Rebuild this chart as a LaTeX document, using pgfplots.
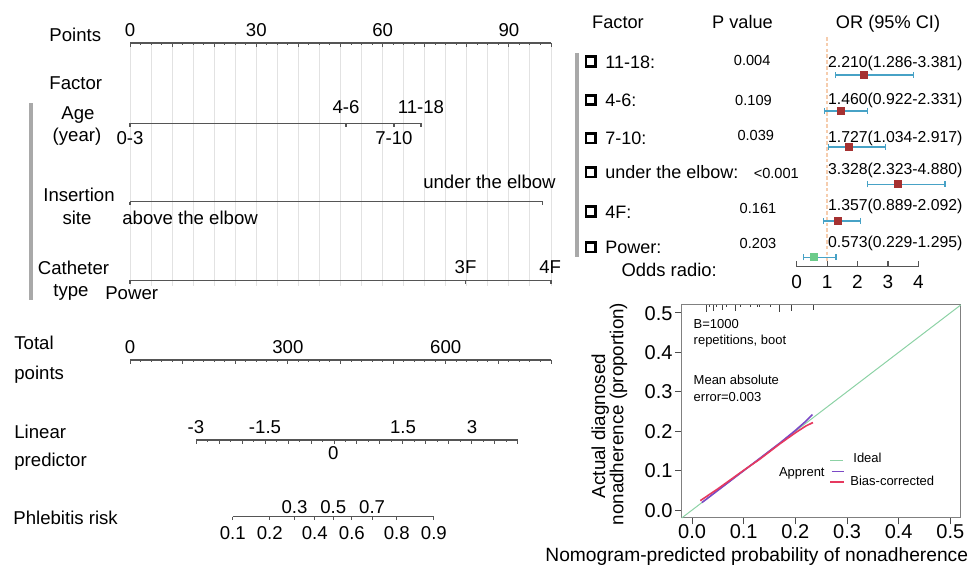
\documentclass[border=0pt]{standalone}
\usepackage{fontspec}
\setmainfont{Liberation Sans}
\usepackage{pgfplots}
\pgfplotsset{compat=1.18}

\definecolor{gridgray}{HTML}{E2E2E2}
\definecolor{bargray}{HTML}{A9A9A9}
\definecolor{axgray}{HTML}{555555}
\definecolor{ciblue}{HTML}{47A2C6}
\definecolor{ptred}{HTML}{A53131}
\definecolor{ptgreen}{HTML}{6CCB8A}
\definecolor{refline}{HTML}{F6CDAE}
\definecolor{idealgreen}{HTML}{8CD2A5}
\definecolor{apppurple}{HTML}{7B49C6}
\definecolor{bcred}{HTML}{E6395F}

\newcommand{\fs}[1]{\fontsize{#1}{#1}\selectfont}
\tikzset{f/.style 2 args={font=\fs{#1}, text height=#2, text depth=0pt, inner sep=0pt}}

\pgfplotsset{
  nomo/.style={scale only axis, clip=false,
    axis x line=top, axis y line=none, x axis line style={-},
    tick align=inside,
    axis line style={axgray, line width=0.6pt},
    tick style={axgray, line width=0.5pt},
    major tick length=2pt, minor tick length=1pt,
    xticklabel style={f={9.3}{6.66pt}, anchor=center, yshift=6.7pt}},
  lvl/.style={axgray, line width=0.6pt, mark=|, mark size=0.9pt,
    mark options={yshift=-0.9pt, axgray}},
}

\begin{document}
\begin{tikzpicture}
\path[use as bounding box] (0,0) rectangle (485pt,283.5pt);

% ---------- nomogram: points and factors ----------
\begin{axis}[nomo, at={(65pt,140.5pt)}, anchor=south west,
  width=210.5pt, height=121.5pt,
  xmin=0, xmax=100, ymin=-286, ymax=-43,
  xtick={0,5,...,100}, xticklabels={}, minor x tick num=1,
  major tick length=1pt,
  xmajorgrids, major grid style={gridgray, line width=0.5pt},
  extra x ticks={0,10,...,100}, extra x tick labels={0,,,30,,,60,,,90,},
  extra x tick style={major tick length=2pt, grid=none}]
\addplot[lvl] coordinates {(0,-123.3) (51.3,-123.3) (62.7,-123.3) (69.1,-123.3)};
\addplot[lvl] coordinates {(0,-201.7) (98.0,-201.7)};
\addplot[lvl] coordinates {(0,-280.5) (79.7,-280.5) (100,-280.5)};
\node[f={9.3}{6.66pt}] at (axis cs:51.3,-106.7) {4-6};
\node[f={9.3}{6.66pt}] at (axis cs:69.1,-106.7) {11-18};
\node[f={9.3}{6.66pt}] at (axis cs:0,-138.3) {0-3};
\node[f={9.3}{6.66pt}] at (axis cs:62.7,-138.3) {7-10};
\node[f={9.3}{6.66pt}, anchor=east] at (axis cs:101.2,-181.7) {under the elbow};
\node[f={9.3}{6.66pt}, anchor=west] at (axis cs:-1.9,-218.3) {above the elbow};
\node[f={9.3}{6.66pt}] at (axis cs:79.7,-266.7) {3F};
\node[f={9.3}{6.66pt}] at (axis cs:99.8,-266.7) {4F};
\node[f={9.3}{6.66pt}] at (axis cs:0.4,-293.3) {Power};
\end{axis}

% ---------- total points ----------
\begin{axis}[nomo, at={(65pt,103.5pt)}, anchor=north west,
  width=210.5pt, height=1pt, xmin=0, xmax=800, ymin=0, ymax=1,
  xtick={0,100,...,800}, xticklabels={0,,,300,,,600,,}, minor x tick num=4]
\end{axis}

% ---------- linear predictor ----------
\begin{axis}[nomo, at={(98pt,63.5pt)}, anchor=north west,
  width=161pt, height=1pt, xmin=-3, xmax=4, ymin=0, ymax=1,
  xtick={-3,-2.5,...,4}, xticklabels={-3,,,-1.5,,,,,,1.5,,,3,,}, minor x tick num=1]
\end{axis}

% ---------- phlebitis risk (logit positions) ----------
\begin{axis}[nomo, at={(116.35pt,25.15pt)}, anchor=north west,
  width=100.6pt, height=1pt, xmin=-2.1972, xmax=2.1972, ymin=0, ymax=1,
  major tick length=1.5pt,
  xtick={-2.1972,-1.3863,-0.8473,-0.4055,0,0.4055,0.8473,1.3863,2.1972}, xticklabels={}]
\end{axis}

% ---------- forest plot ----------
\begin{axis}[scale only axis, clip=false, at={(398.35pt,150.15pt)}, anchor=south west,
  width=60.8pt, height=114.85pt,
  xmin=0, xmax=4, ymin=-266.7, ymax=-37,
  axis x line=bottom, axis y line=none, x axis line style={-},
  tick align=inside, xtick={0,1,2,3,4}, major tick length=3pt,
  axis line style={axgray, line width=0.6pt}, tick style={axgray, line width=0.6pt},
  /pgf/number format/assume math mode=true,
  xticklabel style={f={9.5}{6.8pt}, anchor=center, yshift=-7.5pt}]
\addplot[refline, dash pattern=on 1.8pt off 1.1pt, line width=0.7pt]
  coordinates {(1,-37) (1,-262)};
\addplot[only marks, mark=square*, mark size=1.7pt, mark options={ptred},
  error bars/.cd, x dir=both, x explicit, error mark=|,
  error bar style={ciblue, line width=0.6pt},
  error mark options={ciblue, mark size=1.6pt, line width=0.6pt}]
coordinates {
  (2.210,-75) += (1.620,0) -= (0.924,0)
  (1.460,-111) += (0.871,0) -= (0.538,0)
  (1.727,-147) += (1.190,0) -= (0.693,0)
  (3.328,-184.3) += (1.552,0) -= (1.005,0)
  (1.357,-221) += (0.735,0) -= (0.468,0)
};
\addplot[only marks, mark=square*, mark size=1.7pt, mark options={ptgreen},
  error bars/.cd, x dir=both, x explicit, error mark=|,
  error bar style={ciblue, line width=0.6pt},
  error mark options={ciblue, mark size=1.6pt, line width=0.6pt}]
coordinates {(0.573,-257.3) += (0.722,0) -= (0.344,0)};
\end{axis}

% ---------- calibration curve ----------
\begin{axis}[scale only axis, clip=false, at={(340.85pt,24.5pt)}, anchor=south west,
  width=139.5pt, height=106.5pt,
  xmin=-0.02, xmax=0.52, ymin=-0.02, ymax=0.52,
  xtick={0,0.1,0.2,0.3,0.4,0.5}, ytick={0,0.1,0.2,0.3,0.4,0.5},
  xticklabels={0.0,0.1,0.2,0.3,0.4,0.5}, yticklabels={0.0,0.1,0.2,0.3,0.4,0.5},
  xtick pos=left, ytick pos=left, tick align=outside, major tick length=3.2pt,
  axis line style={black!50, line width=0.5pt}, tick style={black!70, line width=0.5pt},
  xticklabel style={f={10}{7.16pt}, anchor=center, yshift=-3.6pt},
  yticklabel style={f={10}{7.16pt}, anchor=east, xshift=-1.2pt},
  unbounded coords=jump]
\addplot[black!75, line width=0.4pt] coordinates {
  (0.027,0.52) (0.027,0.503) (0.027,nan)
  (0.034,0.52) (0.034,0.514) (0.034,nan)
  (0.042,0.52) (0.042,0.506) (0.042,nan)
  (0.048,0.52) (0.048,0.514) (0.048,nan)
  (0.058,0.52) (0.058,0.507) (0.058,nan)
  (0.067,0.52) (0.067,0.514) (0.067,nan)
  (0.083,0.52) (0.083,0.506) (0.083,nan)
  (0.093,0.52) (0.093,0.514) (0.093,nan)
  (0.112,0.52) (0.112,0.515) (0.112,nan)
  (0.126,0.52) (0.126,0.514) (0.126,nan)
  (0.131,0.52) (0.131,0.515) (0.131,nan)
  (0.151,0.52) (0.151,0.514) (0.151,nan)
  (0.170,0.52) (0.170,0.503) (0.170,nan)
  (0.192,0.52) (0.192,0.504) (0.192,nan)
  (0.234,0.52) (0.234,0.507)
};
\addplot[idealgreen, line width=0.5pt] coordinates {(-0.02,-0.02) (0.52,0.52)};
\addplot[apppurple, line width=0.8pt] coordinates {
  (0.019,0.019) (0.05,0.05) (0.10,0.100) (0.13,0.130) (0.17,0.170)
  (0.20,0.202) (0.22,0.225) (0.233,0.242)};
\addplot[bcred, line width=0.8pt] coordinates {
  (0.016,0.024) (0.05,0.054) (0.10,0.101) (0.13,0.128) (0.17,0.168)
  (0.20,0.196) (0.22,0.213) (0.234,0.222)};
\end{axis}

% ---------- text, in pixel units of the 970x567 reference ----------
\begin{scope}[x=0.5pt, y=-0.5pt, yshift=283.5pt]
\node[f={9.3}{6.66pt}, anchor=west] at (49,35) {Points};
\node[f={9.3}{6.66pt}, anchor=west] at (49,83.3) {Factor};
\node[f={9.3}{6.66pt}] at (78,113.3) {Age};
\node[f={9.3}{6.66pt}] at (77,135) {(year)};
\node[f={9.3}{6.66pt}] at (79,195) {Insertion};
\node[f={9.3}{6.66pt}] at (77,218.3) {site};
\node[f={9.3}{6.66pt}] at (73.5,268.3) {Catheter};
\node[f={9.3}{6.66pt}] at (71,290) {type};
\fill[bargray] (29,103.3) rectangle (33,300);
\node[f={9.3}{6.66pt}, anchor=west] at (14,343) {Total};
\node[f={9.3}{6.66pt}, anchor=west] at (14,373) {points};
\node[f={9.3}{6.66pt}, anchor=west] at (14,431.7) {Linear};
\node[f={9.3}{6.66pt}, anchor=west] at (14,460) {predictor};
\node[f={9.3}{6.66pt}, anchor=west] at (13,518) {Phlebitis risk};
\node[f={9.3}{6.66pt}] at (333.3,453.3) {0};
\node[f={9.3}{6.66pt}] at (294.5,507) {0.3};
\node[f={9.3}{6.66pt}] at (333.3,507) {0.5};
\node[f={9.3}{6.66pt}] at (372.1,507) {0.7};
\node[f={9.3}{6.66pt}] at (232.7,533) {0.1};
\node[f={9.3}{6.66pt}] at (269.8,533) {0.2};
\node[f={9.3}{6.66pt}] at (314.7,533) {0.4};
\node[f={9.3}{6.66pt}] at (351.9,533) {0.6};
\node[f={9.3}{6.66pt}] at (396.8,533) {0.8};
\node[f={9.3}{6.66pt}] at (433.9,533) {0.9};
% forest plot table
\node[f={9.1}{6.52pt}] at (618,21.7) {Factor};
\node[f={9.1}{6.52pt}] at (742.5,21.7) {P value};
\node[f={9.1}{6.52pt}] at (888,21.7) {OR (95\% CI)};
\fill[bargray] (574.5,53) rectangle (578.5,256.7);
\foreach \yy/\lab in {61.7/11-18:, 100/4-6:, 138.3/7-10:, 172.3/under the elbow:, 211.7/4F:, 247.3/Power:}{
  \draw[line width=1.4pt] (586,\yy-4.8) rectangle (595.6,\yy+4.8);
  \node[f={9}{6.44pt}, anchor=west] at (605,\yy) {\lab};
}
\node[f={7.3}{5.23pt}] at (752.2,60) {0.004};
\node[f={7.3}{5.23pt}] at (753.5,100) {0.109};
\node[f={7.3}{5.23pt}] at (755.8,135) {0.039};
\node[f={7.3}{5.23pt}] at (776.3,173.3) {<0.001};
\node[f={7.3}{5.23pt}] at (758,208.3) {0.161};
\node[f={7.3}{5.23pt}] at (758,243.3) {0.203};
\node[f={7.9}{5.66pt}, anchor=west] at (827.7,61.7) {2.210(1.286-3.381)};
\node[f={7.9}{5.66pt}, anchor=west] at (827.7,99.3) {1.460(0.922-2.331)};
\node[f={7.9}{5.66pt}, anchor=west] at (827.7,136.7) {1.727(1.034-2.917)};
\node[f={7.9}{5.66pt}, anchor=west] at (827.7,169) {3.328(2.323-4.880)};
\node[f={7.9}{5.66pt}, anchor=west] at (827.7,205) {1.357(0.889-2.092)};
\node[f={7.9}{5.66pt}, anchor=west] at (827.7,241.7) {0.573(0.229-1.295)};
\node[f={9.2}{6.59pt}] at (669.2,270) {Odds radio:};
% calibration annotations
\node[f={6.5}{4.65pt}, anchor=west] at (693.3,324.3) {B=1000};
\node[f={6.5}{4.65pt}, anchor=west] at (693.3,340) {repetitions, boot};
\node[f={6.5}{4.65pt}, anchor=west] at (693.3,380) {Mean absolute};
\node[f={6.5}{4.65pt}, anchor=west] at (693.3,396.7) {error=0.003};
\draw[idealgreen, line width=0.5pt] (830,461) -- (843,461);
\node[f={6.5}{4.65pt}, anchor=west] at (853,458.3) {Ideal};
\draw[apppurple, line width=0.8pt] (831.7,471.7) -- (844,471.7);
\node[f={6.5}{4.65pt}, anchor=east] at (825,471.7) {Apprent};
\draw[bcred, line width=0.8pt] (830,482) -- (844,482);
\node[f={6.5}{4.65pt}, anchor=west] at (850,481) {Bias-corrected};
\node[f={9.4}{6.73pt}, rotate=90] at (598.3,426) {Actual diagnosed};
\node[f={9.4}{6.73pt}, rotate=90] at (616.7,414) {nonadherence (proportion)};
\node[f={9.6}{6.87pt}, anchor=west] at (545,555) {Nomogram-predicted probability of nonadherence};
\end{scope}
\end{tikzpicture}
\end{document}
